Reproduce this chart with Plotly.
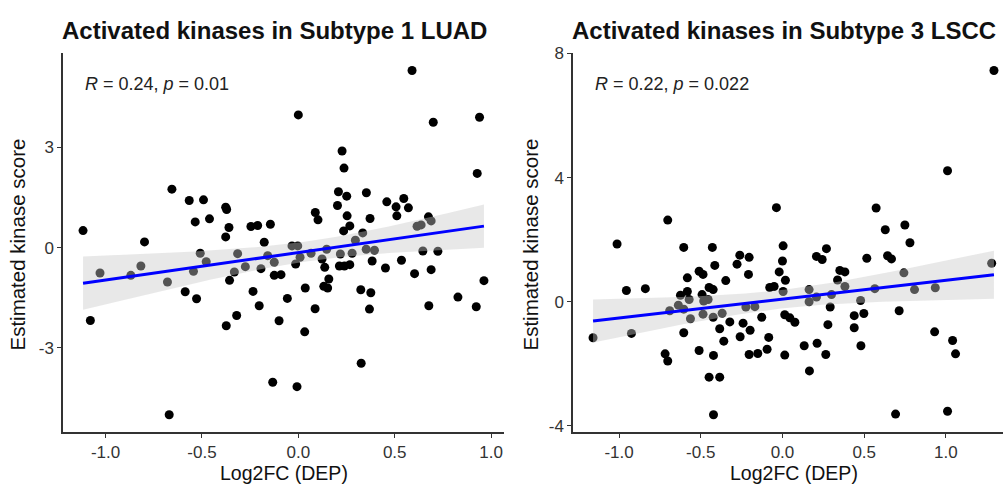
import numpy as np
import plotly.graph_objects as go

# ---------------- data ----------------
luad_x = [0.59, 0.00, 0.94, 0.70, 0.227, 0.237, 0.928, -0.656, -0.566, -0.492, -0.377, -0.372,
          -0.535, -0.461, -0.36, -0.246, -0.211, -0.145, 0.088, 0.102, 0.208, 0.251, 0.203, 0.353,
          0.253, 0.372, 0.459, 0.507, 0.547, 0.511, 0.571, 0.675, 0.689, 0.616, 0.637, 0.235, 0.267,
          0.334, -1.117, -1.079, -1.029, -0.869, -0.817, -0.798, -0.679, -0.670, -0.587, -0.528,
          -0.544, -0.509, -0.478, -0.377, -0.357, -0.374, -0.32, -0.332, -0.315, -0.275, -0.235,
          -0.203, -0.194, -0.177, -0.159, -0.125, -0.125, -0.09, -0.10, -0.057, -0.133, -0.007,
          -0.033, -0.003, 0.009, -0.014, 0.033, 0.036, 0.066, 0.087, 0.123, 0.137, 0.147, 0.158,
          0.132, 0.152, 0.218, 0.213, 0.239, 0.267, 0.279, 0.296, 0.324, 0.326, 0.352, 0.395, 0.383,
          0.376, 0.369, 0.452, 0.535, 0.603, 0.646, 0.689, 0.677, 0.724, 0.828, 0.923, 0.963]
luad_y = [5.30, 3.97, 3.90, 3.75, 2.89, 2.38, 2.22, 1.75, 1.41, 1.43, 1.21, 1.14,
          0.77, 0.86, 0.60, 0.63, 0.66, 0.70, 1.05, 0.83, 1.67, 1.54, 1.26, 1.64,
          0.95, 0.87, 1.37, 1.22, 1.47, 0.95, 1.19, 0.92, 0.80, 0.64, 0.68, 0.50, 0.65,
          0.44, 0.51, -2.18, -0.76, -0.83, -0.55, 0.17, -1.03, -5.0, -1.32, -1.53,
          -0.71, -0.17, -0.42, 0.32, -0.98, -2.34, -2.03, -0.73, -0.18, -0.57, -1.31,
          -1.74, -0.63, 0.16, -0.24, -0.44, -0.83, -0.81, -2.19, -1.52, -4.03, -4.16,
          0.05, 0.05, -0.29, -0.49, -2.52, -1.21, -0.17, -1.83, -0.34, -0.59, -0.05, -0.94,
          -1.16, -1.21, -0.19, -0.55, -0.55, -0.51, -0.17, 0.22, -1.26, -3.46, -0.05, -0.08, -0.40,
          -1.35, -1.84, -0.61, -0.38, -0.78, -0.10, -0.66, -1.74, -0.11, -1.48, -1.77, -0.99]

lscc_x = [1.294, 1.01, -0.037, 0.573, -0.702, -1.012, 0.629, 0.749, 0.78, -0.955, -0.839, -1.159,
          -0.924, -0.718, -0.702, -0.604, -0.582, -0.624, -0.582, -0.69, -0.637, -0.604, -0.571,
          -0.563, -0.604, -0.51, -0.486, -0.51, -0.492, -0.486, -0.482, -0.455, -0.449, -0.424,
          -0.429, -0.414, -0.424, -0.449, -0.384, -0.422, -0.422, -0.384, -0.369, -0.359, -0.347,
          -0.322, -0.278, -0.261, -0.204, -0.208, -0.241, -0.259, -0.224, -0.169, -0.198, -0.204,
          -0.151, -0.127, -0.084, -0.094, -0.078, -0.051, -0.02, 0.004, 0.0, 0.018, 0.004, 0.014,
          0.045, 0.076, 0.014, 0.133, 0.165, 0.163, 0.163, 0.208, 0.212, 0.208, 0.243, 0.269, 0.30,
          0.292, 0.278, 0.265, 0.337, 0.351, 0.382, 0.382, 0.439, 0.439, 0.478, 0.498, 0.48, 0.516,
          0.565, 0.643, 0.667, 0.714, 0.692, 0.743, 0.808, 0.935, 0.931, 1.041, 1.059, 1.01, 1.28]
lscc_y = [7.45, 4.22, 3.03, 3.02, 2.63, 1.86, 2.32, 2.47, 1.90, 0.36, 0.42, -1.16,
          -1.02, -1.68, -1.91, 1.75, 0.77, 0.21, 0.33, -0.29, -0.11, -0.24, 0.07,
          -0.55, -1.0, 0.98, 0.88, -1.57, 0.23, -0.40, 0.02, 0.07, 0.46, 0.39,
          1.75, 1.17, -0.50, -2.43, -2.43, -1.73, -3.64, -0.87, -0.37, -1.27, 0.68,
          -0.65, 1.21, 1.50, 1.43, 0.88, -0.69, -1.13, -0.17, -0.16, -0.92, -1.70,
          -1.67, -0.50, -1.15, -1.53, 0.46, 0.49, 0.96, 1.80, 1.31, 0.69, 0.33, -0.42,
          -0.52, -0.66, -1.72, -1.42, -2.23, 0.39, 0.0, 0.15, -1.34, 1.46, 1.36, 1.71, 0.23,
          -0.17, -0.74, -1.70, 0.70, 1.01, 0.96, 0.49, -0.45, -0.84, 0.04, -0.38, -1.42, 1.40,
          0.42, 1.48, 1.38, -0.29, -3.62, 0.93, 0.39, 0.45, -0.97, -1.25, -1.68, -3.53, 1.24]

titles = ["Activated kinases in Subtype 1 LUAD", "Activated kinases in Subtype 3 LSCC"]
stats_text = ["<i>R</i> = 0.24, <i>p</i> = 0.01", "<i>R</i> = 0.22, <i>p</i> = 0.022"]
x_title = "Log2FC (DEP)"
y_title = "Estimated kinase score"
x_ticks = [-1.0, -0.5, 0.0, 0.5, 1.0]
x_ticktext = ["-1.0", "-0.5", "0.0", "0.5", "1.0"]
y_ticks_luad = [-3, 0, 3]
y_ticks_lscc = [-4, 0, 4, 8]

# ---------------- layout constants ----------------
W, H = 1003, 487
FONT = "Liberation Sans, Arial, Helvetica, sans-serif"
panel_px = [(63, 504), (573, 1014)]   # full panel widths (right one is cropped by the canvas)
top_px, bot_px = 45.5, 434.5
ydom = [(H - bot_px) / H, (H - top_px) / H]


def expand(v, f=0.05):
    lo, hi = min(v), max(v)
    d = (hi - lo) * f
    return [lo - d, hi + d]


def fit_band(x, y, t=1.98):
    x = np.asarray(x, float)
    y = np.asarray(y, float)
    n = len(x)
    b, a = np.polyfit(x, y, 1)
    resid = y - (a + b * x)
    s = np.sqrt(np.sum(resid ** 2) / (n - 2))
    xm = x.mean()
    sxx = np.sum((x - xm) ** 2)
    xs = np.linspace(x.min(), x.max(), 80)
    yf = a + b * xs
    se = s * np.sqrt(1 / n + (xs - xm) ** 2 / sxx)
    return xs, yf, yf - t * se, yf + t * se


fig = go.Figure()
layout = dict(
    width=W, height=H, margin=dict(l=0, r=0, t=0, b=0),
    paper_bgcolor="white", plot_bgcolor="white", showlegend=False,
    font=dict(family=FONT, color="#222"),
)
annotations = []

datasets = [(luad_x, luad_y, y_ticks_luad), (lscc_x, lscc_y, y_ticks_lscc)]
for i, (xv, yv, yt) in enumerate(datasets):
    xa = "x" if i == 0 else "x2"
    ya = "y" if i == 0 else "y2"
    xr = expand(xv)
    yr = expand(yv)
    p0, p1 = panel_px[i]
    vis1 = min(p1, W)
    xr_vis = [xr[0], xr[0] + (xr[1] - xr[0]) * (vis1 - p0) / (p1 - p0)]

    fig.add_trace(go.Scatter(x=xv, y=yv, mode="markers", xaxis=xa, yaxis=ya,
                             marker=dict(size=9, color="black", line=dict(width=0)),
                             hoverinfo="skip"))
    xs, yf, lo, hi = fit_band(xv, yv)
    fig.add_trace(go.Scatter(x=np.concatenate([xs, xs[::-1]]),
                             y=np.concatenate([hi, lo[::-1]]),
                             mode="lines", fill="toself", xaxis=xa, yaxis=ya,
                             fillcolor="rgba(200,200,200,0.42)", line=dict(width=0),
                             hoverinfo="skip"))
    fig.add_trace(go.Scatter(x=xs, y=yf, mode="lines", xaxis=xa, yaxis=ya,
                             line=dict(color="#0000ff", width=3), hoverinfo="skip"))

    axis_common = dict(showline=True, linecolor="#333", linewidth=1.5, ticks="outside",
                       ticklen=4, tickwidth=1.3, tickcolor="#333", showgrid=False,
                       zeroline=False, mirror=False,
                       tickfont=dict(family=FONT, size=17, color="#333"))
    suffix = "" if i == 0 else "2"
    layout["xaxis" + suffix] = dict(domain=[p0 / W, vis1 / W], range=xr_vis,
                                    tickvals=x_ticks, ticktext=x_ticktext,
                                    anchor=ya, **axis_common)
    layout["yaxis" + suffix] = dict(domain=ydom, range=yr, tickvals=yt,
                                    ticktext=[str(v) for v in yt],
                                    anchor=xa, **axis_common)

    annotations.append(dict(text="<b>" + titles[i] + "</b>", xref="paper", yref="paper",
                            x=(p0 - 3) / W, y=1 - 22 / H, xanchor="left", yanchor="middle",
                            showarrow=False, font=dict(family=FONT, size=24, color="#111")))
    annotations.append(dict(text=stats_text[i], xref=xa, yref="paper",
                            x=min(xv), y=1 - 77 / H, xanchor="left", yanchor="middle",
                            showarrow=False, font=dict(family=FONT, size=18, color="#222")))
    annotations.append(dict(text=x_title, xref="paper", yref="paper",
                            x=(p0 + p1) / 2 / W, y=1 - 476.5 / H, xanchor="center",
                            yanchor="middle", showarrow=False,
                            font=dict(family=FONT, size=19.5, color="#111")))
    yx = 18 if i == 0 else 531
    annotations.append(dict(text=y_title, xref="paper", yref="paper",
                            x=yx / W, y=1 - 242 / H, xanchor="center", yanchor="middle",
                            textangle=-90, showarrow=False,
                            font=dict(family=FONT, size=20.5, color="#111")))

layout["annotations"] = annotations
fig.update_layout(**layout)
fig.write_html("out.html")
